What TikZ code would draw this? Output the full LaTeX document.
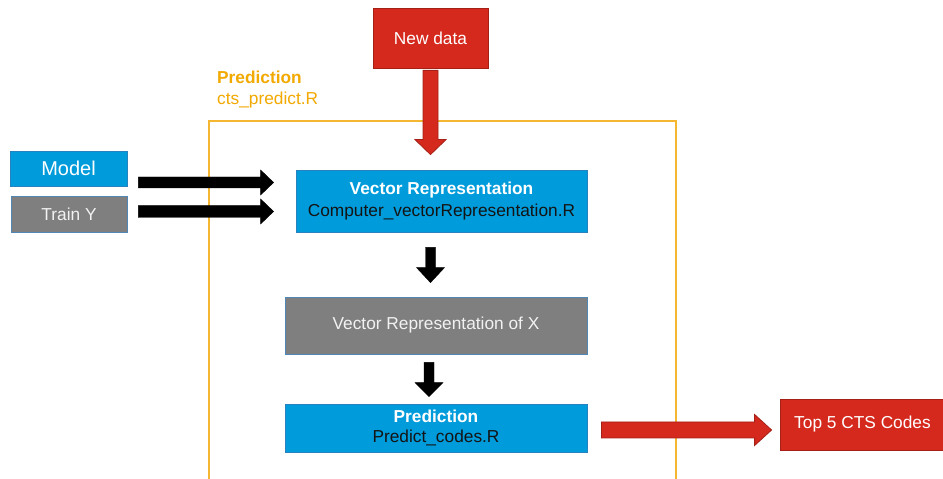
\documentclass[tikz,border=0pt]{standalone}
\usepackage{fontspec}
\setmainfont{Liberation Sans}
\usetikzlibrary{calc}
\definecolor{cblue}{RGB}{0,155,219}
\definecolor{cblueb}{RGB}{40,130,190}
\definecolor{cred}{RGB}{214,41,30}
\definecolor{credb}{RGB}{165,32,22}
\definecolor{cgray}{RGB}{127,127,127}
\definecolor{cgrayb}{RGB}{80,135,180}
\definecolor{corange}{RGB}{242,169,0}
\definecolor{cframe}{RGB}{245,182,50}
\definecolor{ctxt}{RGB}{20,20,20}
\newcommand{\myharrow}[6]{%
  \draw[#1] let \p1=#2, \p2=#3 in
    (\x1,\y1+#4pt) -- (\x2-#6pt,\y1+#4pt) -- (\x2-#6pt,\y1+#5pt) -- (\x2,\y1)
    -- (\x2-#6pt,\y1-#5pt) -- (\x2-#6pt,\y1-#4pt) -- (\x1,\y1-#4pt) -- cycle;}
\newcommand{\myvarrow}[6]{%
  \draw[#1] let \p1=#2, \p2=#3 in
    (\x1-#4pt,\y1) -- (\x1-#4pt,\y2+#6pt) -- (\x1-#5pt,\y2+#6pt) -- (\x1,\y2)
    -- (\x1+#5pt,\y2+#6pt) -- (\x1+#4pt,\y2+#6pt) -- (\x1+#4pt,\y1) -- cycle;}
\begin{document}
\begin{tikzpicture}[x=1pt,y=1pt,
  box/.style={rectangle, line width=0.8pt, inner sep=0pt, align=center,
    font=\fontsize{17.3}{21}\selectfont},
  bluebox/.style={box, fill=cblue, draw=cblueb, text=white},
  redbox/.style={box, fill=cred, draw=credb, text=white},
  graybox/.style={box, fill=cgray, draw=cgrayb, text=black!5},
  redarr/.style={fill=cred, draw=credb, line width=0.8pt},
  blkarr/.style={fill=black, draw=black, line width=0.4pt},
  frame/.style={draw=cframe, line width=1.8pt}]
\useasboundingbox (0,0) rectangle (943,479);
\fill[white] (0,0) rectangle (943,479);

% frame
\draw[frame] (209,-5) -- (209,358) -- (676,358) -- (676,-5);
\node[anchor=west, align=left, text=corange, inner sep=2pt,
  font=\fontsize{17.3}{21}\selectfont] (lbl) at (215,389.5)
  {\textbf{Prediction}\\cts\_predict.R};

% nodes
\node[redbox, minimum width=115pt, minimum height=60pt] (nd) at (430.5,441) {New data};
\node[bluebox, minimum width=117pt, minimum height=35pt,
  font=\fontsize{20}{24}\selectfont] (model) at (68.5,310.5) {Model};
\node[graybox, minimum width=116pt, minimum height=36pt] (trainy) at (69,265) {Train Y};
\node[bluebox, minimum width=291pt, minimum height=62pt,
  font=\fontsize{17.3}{22}\selectfont] (vr) at (441.5,278)
  {\textbf{Vector Representation}\\\textcolor{ctxt}{Computer\_vectorRepresentation.R}};
\node[graybox, minimum width=302pt, minimum height=57pt] (vx) at (436,153.5)
  {Vector Representation of X};
\node[bluebox, minimum width=302pt, minimum height=48pt,
  font=\fontsize{17.3}{20}\selectfont] (pr) at (436,51)
  {\textbf{Prediction}\\\textcolor{ctxt}{Predict\_codes.R}};
\node[redbox, minimum width=165pt, minimum height=51pt] (top) at (862.5,54.5)
  {Top 5 CTS Codes};

% connectors
\myvarrow{redarr}{($(nd.south)+(0,-2)$)}{($(nd.south|-vr.north)+(0,15)$)}{7.5}{15.5}{15}
\myharrow{blkarr}{($(model.east)+(11,-14)$)}{($(vr.west)+(-22,18.5)$)}{5.5}{12.5}{13}
\myharrow{blkarr}{($(trainy.east)+(11,2.5)$)}{($(vr.west)+(-22,-10.5)$)}{6}{12.5}{13}
\myvarrow{blkarr}{($(vr.south)+(-11,-15)$)}{($(vx.north)+(0,14)$)}{5}{14}{15}
\myvarrow{blkarr}{($(vx.south)+(-7,-8)$)}{($(pr.north)+(0,7)$)}{5}{14}{14}
\myharrow{redarr}{($(pr.east)+(14,-2)$)}{($(top.west)+(-8,-5.5)$)}{8}{15.5}{17}
\end{tikzpicture}
\end{document}
